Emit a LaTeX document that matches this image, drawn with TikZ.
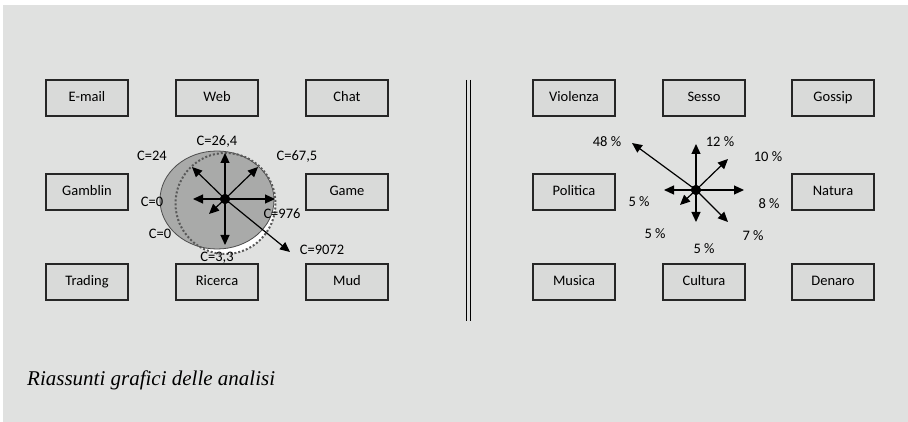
\documentclass[tikz,border=0pt]{standalone}
\usepackage{fontspec}
\setmainfont{Liberation Serif}
\newfontfamily\boxfont{Carlito}
\usetikzlibrary{arrows.meta}
\definecolor{bgc}{HTML}{E0E1E0}
\definecolor{boxc}{HTML}{D9DAD9}
\definecolor{ellc}{HTML}{A9AAA9}
\tikzset{
  cat/.style={draw=black!85, line width=1.1pt, fill=boxc, minimum width=82pt, minimum height=36pt, inner sep=0pt, text height=10pt, text depth=3pt, font=\boxfont\fontsize{14.5}{16}\selectfont},
  lab/.style={inner sep=0pt, text height=10pt, text depth=3pt, font=\boxfont\fontsize{14.5}{16}\selectfont},
  vec/.style={line width=1.2pt, -{Triangle[length=10pt,width=9pt]}},
  hub/.style={circle, fill=black, minimum size=10pt, inner sep=0pt},
}
\begin{document}
\begin{tikzpicture}[x=1pt,y=-1pt]
\useasboundingbox (0,0) rectangle (908,422);
\fill[bgc] (3,5) rectangle (908,422);
% left boxes
\node[cat] (email) at (87,98) {E-mail};
\node[cat] (web) at (217,98) {Web};
\node[cat] (chat) at (347,98) {Chat};
\node[cat] (gamblin) at (87,192) {Gamblin};
\node[cat] (game) at (347,192) {Game};
\node[cat] (trading) at (87,282) {Trading};
\node[cat] (ricerca) at (217,282) {Ricerca};
\node[cat] (mud) at (347,282) {Mud};
% right boxes
\node[cat] (violenza) at (574,98) {Violenza};
\node[cat] (sesso) at (704,98) {Sesso};
\node[cat] (gossip) at (833,98) {Gossip};
\node[cat] (politica) at (574,192) {Politica};
\node[cat] (natura) at (833,192) {Natura};
\node[cat] (musica) at (574,282) {Musica};
\node[cat] (cultura) at (704,282) {Cultura};
\node[cat] (denaro) at (833,282) {Denaro};
% separator
\coordinate (sepT) at (468.5,80);
\coordinate (sepB) at (468.5,321);
\draw[line width=1.3pt] ([xshift=-1.7pt]sepT) -- ([xshift=-1.7pt]sepB);
\draw[line width=1.3pt] ([xshift=1.7pt]sepT) -- ([xshift=1.7pt]sepB);
% left ellipse
\fill[white] (225.5,203.5) ellipse [x radius=50, y radius=50.5];
\draw[black!70, line width=0.8pt, fill=ellc] (217,200) ellipse [x radius=57, y radius=49];
\draw[black!65, line width=2pt, dotted] (225.5,203.5) ellipse [x radius=50, y radius=50.5];
\node[hub] (c1) at (225,199) {};
\coordinate (l1) at (225,153);
\coordinate (l2) at (225,245);
\coordinate (l3) at (193,199);
\coordinate (l4) at (275,199);
\coordinate (l5) at (192,167);
\coordinate (l6) at (258,167);
\coordinate (l7) at (209,214);
\coordinate (l8) at (290,252);
\foreach \t in {l1,l2,l3,l4,l5,l6,l7,l8} \draw[vec] (c1.center) -- (\t);
\node[hub] at (225,199) {};
\node[lab] (t1) at (217,142) {C=26,4};
\node[lab] (t2) at (152,157) {C=24};
\node[lab] (t3) at (297,157) {C=67,5};
\node[lab] (t4) at (152,203) {C=0};
\node[lab] (t5) at (160,235) {C=0};
\node[lab] (t6) at (282,215) {C=976};
\node[lab] (t7) at (322,251) {C=9072};
\node[lab] (t8) at (217,258) {C=3,3};
% right star
\node[hub] (c2) at (696,190) {};
\coordinate (r1) at (696,144);
\coordinate (r2) at (696,222);
\coordinate (r3) at (664,190);
\coordinate (r4) at (744,190);
\coordinate (r5) at (632,143);
\coordinate (r6) at (728,159);
\coordinate (r7) at (680,205);
\coordinate (r8) at (728,222);
\foreach \t in {r1,r2,r3,r4,r5,r6,r7,r8} \draw[vec] (c2.center) -- (\t);
\node[hub] at (696,190) {};
\node[lab] (p1) at (607,143) {48 \%};
\node[lab] (p2) at (720,143) {12 \%};
\node[lab] (p3) at (768,158) {10 \%};
\node[lab] (p4) at (769,205) {8 \%};
\node[lab] (p5) at (639,203) {5 \%};
\node[lab] (p6) at (655,235) {5 \%};
\node[lab] (p7) at (753,237) {7 \%};
\node[lab] (p8) at (704,250) {5 \%};
% caption
\node[anchor=base west, inner sep=0pt, font=\itshape\fontsize{21}{24}\selectfont] (cap) at (27,385) {Riassunti grafici delle analisi};
\end{tikzpicture}
\end{document}
